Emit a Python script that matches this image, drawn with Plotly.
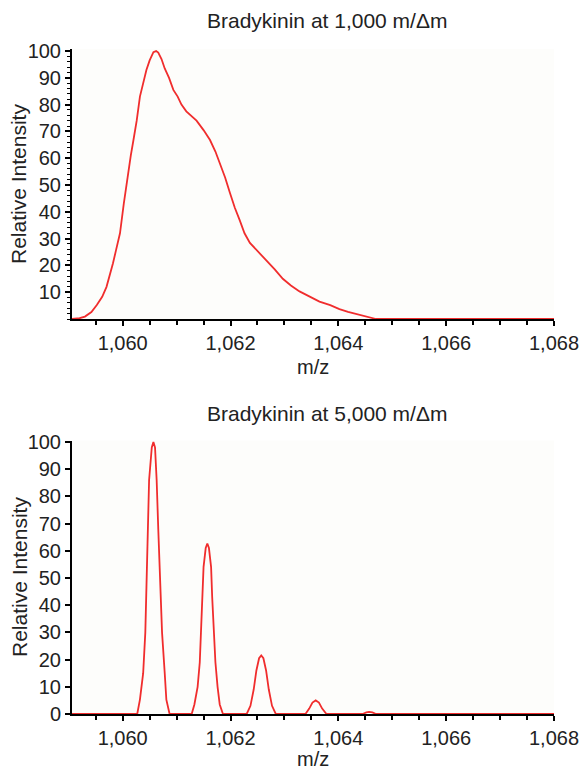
import plotly.graph_objects as go

# ---- data: top panel (1,000 m/Δm) ----
mz_low = [1059.06, 1059.20, 1059.30, 1059.42, 1059.52, 1059.62, 1059.70, 1059.76, 1059.82,
          1059.88, 1059.95, 1060.02, 1060.10, 1060.15, 1060.20, 1060.26, 1060.32, 1060.38,
          1060.44, 1060.50, 1060.57, 1060.62, 1060.66, 1060.72, 1060.78, 1060.86, 1060.94,
          1061.02, 1061.09, 1061.18, 1061.27, 1061.37, 1061.50, 1061.62, 1061.72, 1061.80,
          1061.90, 1061.99, 1062.08, 1062.17, 1062.26, 1062.36, 1062.50, 1062.67, 1062.82,
          1062.97, 1063.12, 1063.28, 1063.45, 1063.65, 1063.85, 1064.02, 1064.18, 1064.33,
          1064.48, 1064.58, 1064.70, 1065.50, 1066.50, 1067.50, 1068.00]
int_low = [0.0, 0.3, 0.9, 2.6, 5.2, 8.3, 12.0, 16.0, 20.8,
           26.0, 32.0, 43.0, 54.5, 61.0, 66.8, 74.0, 83.0, 88.5,
           92.9, 96.5, 99.6, 100.0, 99.4, 97.0, 93.5, 90.0, 85.5,
           83.0, 80.0, 77.5, 76.0, 74.0, 70.5, 66.8, 62.5, 58.2,
           52.8, 47.0, 41.5, 36.9, 32.0, 28.4, 25.5, 22.0, 18.5,
           15.0, 12.5, 10.3, 8.5, 6.5, 5.2, 3.7, 2.7, 1.9,
           1.0, 0.5, 0.0, 0.0, 0.0, 0.0, 0.0]

# ---- data: bottom panel (5,000 m/Δm) ----
mz_high = [1059.06, 1060.27, 1060.32, 1060.38, 1060.42, 1060.44, 1060.47, 1060.49, 1060.54,
           1060.57, 1060.60, 1060.63, 1060.66, 1060.70, 1060.73, 1060.78, 1060.81, 1060.87,
           1061.28, 1061.33, 1061.39, 1061.43, 1061.45, 1061.48, 1061.50, 1061.54, 1061.57,
           1061.60, 1061.64, 1061.66, 1061.69, 1061.72, 1061.76, 1061.80, 1061.86,
           1062.30, 1062.37, 1062.43, 1062.48, 1062.53, 1062.57, 1062.61, 1062.66, 1062.71,
           1062.77, 1062.84,
           1063.39, 1063.46, 1063.52, 1063.58, 1063.64, 1063.70, 1063.78,
           1064.45, 1064.52, 1064.57, 1064.63, 1064.70, 1068.00]
int_high = [0.0, 0.0, 5.3, 15.0, 30.0, 49.0, 68.0, 86.0, 98.0,
            100.0, 98.0, 86.0, 68.0, 49.0, 30.0, 15.0, 5.3, 0.0,
            0.0, 3.5, 10.0, 19.0, 31.0, 43.0, 54.0, 61.0, 62.7,
            61.0, 54.0, 43.0, 31.0, 19.0, 10.0, 3.5, 0.0,
            0.0, 3.0, 9.0, 16.0, 20.5, 21.5, 20.5, 16.0, 9.0,
            3.0, 0.0,
            0.0, 2.0, 4.2, 5.0, 4.2, 2.0, 0.0,
            0.0, 0.6, 0.8, 0.6, 0.0, 0.0]

x_ticks = [1060, 1062, 1064, 1066, 1068]
x_tick_labels = ["1,060", "1,062", "1,064", "1,066", "1,068"]
y_ticks_top = [10, 20, 30, 40, 50, 60, 70, 80, 90, 100]
y_ticks_bottom = [0, 10, 20, 30, 40, 50, 60, 70, 80, 90, 100]
titles = ["Bradykinin at 1,000 m/\u0394m", "Bradykinin at 5,000 m/\u0394m"]

W, H = 582, 770
def px(x):
    return x / W
def py(y):
    return 1 - y / H

FONT = "Liberation Sans, Arial, sans-serif"
RED = "rgb(240,45,45)"
TXT = "#222"
fs = 20

fig = go.Figure()
fig.add_trace(go.Scatter(x=mz_low, y=int_low, mode="lines", line=dict(color=RED, width=1.8),
                         xaxis="x", yaxis="y", showlegend=False, hoverinfo="skip"))
fig.add_trace(go.Scatter(x=mz_high, y=int_high, mode="lines", line=dict(color=RED, width=1.8),
                         xaxis="x2", yaxis="y2", showlegend=False, hoverinfo="skip"))

xdom = [px(72), px(554)]
ytop_dom = [py(319), py(48.9)]
ybot_dom = [py(714), py(440.6)]

def xaxis(anchor, layer):
    return dict(domain=xdom, anchor=anchor, range=[1059.06, 1068.0], automargin=False,
                tickmode="array", tickvals=x_ticks, ticktext=x_tick_labels,
                ticks="outside", ticklen=5, tickwidth=1.5, tickcolor="black",
                minor=dict(tickmode="linear", tick0=1059.5, dtick=0.5, ticks="outside",
                           ticklen=4, tickwidth=1.5, tickcolor="black"),
                showline=True, linecolor="black", linewidth=2, showgrid=False,
                zeroline=False, layer=layer,
                tickfont=dict(family=FONT, size=fs, color=TXT))

fig.update_layout(
    template="none",
    width=W, height=H, margin=dict(l=0, r=0, t=0, b=0, pad=0), autosize=False,
    paper_bgcolor="white", plot_bgcolor="#fdfdfb",
    xaxis=xaxis("y", "below traces"),
    xaxis2=xaxis("y2", "above traces"),
    yaxis=dict(domain=ytop_dom, anchor="x", range=[0, 100.8], automargin=False,
               tickmode="array", tickvals=y_ticks_top,
               ticks="outside", ticklen=5, tickwidth=1.5, tickcolor="black",
               minor=dict(tickmode="linear", tick0=0, dtick=2, ticks="outside",
                          ticklen=3, tickwidth=1, tickcolor="black"),
               showline=True, linecolor="black", linewidth=2, showgrid=False,
               zeroline=False, tickfont=dict(family=FONT, size=fs, color=TXT)),
    yaxis2=dict(domain=ybot_dom, anchor="x2", range=[0, 100.5], automargin=False,
                tickmode="array", tickvals=y_ticks_bottom,
                ticks="outside", ticklen=5, tickwidth=1.5, tickcolor="black",
                showline=True, linecolor="black", linewidth=2, showgrid=False,
                zeroline=False, tickfont=dict(family=FONT, size=fs, color=TXT)),
)

ann = []
for t, yc in zip(titles, [20, 413]):
    ann.append(dict(text=t, x=px(327), y=py(yc), xref="paper", yref="paper",
                    showarrow=False, xanchor="center", yanchor="middle",
                    font=dict(family=FONT, size=21, color=TXT)))
for yc in [367, 759]:
    ann.append(dict(text="m/z", x=px(313), y=py(yc), xref="paper", yref="paper",
                    showarrow=False, xanchor="center", yanchor="middle",
                    font=dict(family=FONT, size=fs, color=TXT)))
for yc in [184, 577]:
    ann.append(dict(text="Relative Intensity", x=px(19), y=py(yc), xref="paper",
                    yref="paper", showarrow=False, xanchor="center", yanchor="middle",
                    textangle=-90, font=dict(family=FONT, size=21, color=TXT)))
fig.update_layout(annotations=ann)

# remove the default page margin so the 582x770 figure fills the window exactly
fig.write_html("out.html", config={"displayModeBar": False},
               post_script="document.body.style.margin='0';document.body.style.overflow='hidden';")
